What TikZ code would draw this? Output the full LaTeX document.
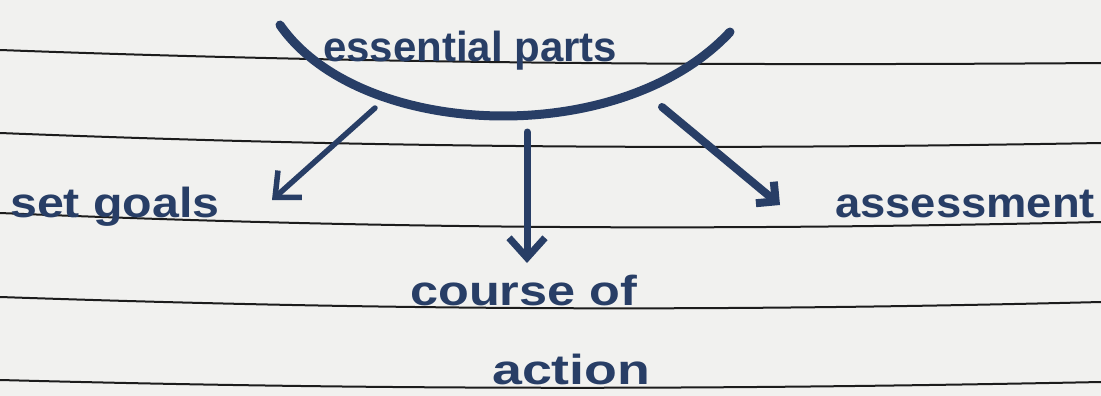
\documentclass[tikz,border=0pt]{standalone}
\usepackage{fontspec}
\setmainfont{Liberation Sans}
\usetikzlibrary{arrows.meta}
\definecolor{ink}{RGB}{40,62,102}
\definecolor{paper}{RGB}{241,241,239}
\definecolor{rulecol}{RGB}{28,28,28}
\begin{document}
\begin{tikzpicture}[x=1pt,y=-1pt,
  handtext/.style={text=ink, font=\fontsize{42}{46}\selectfont\bfseries, inner sep=0pt, anchor=base west},
  ruleline/.style={rulecol, line width=2pt},
  inkarrow/.style={ink, line cap=round, line join=round}]
\fill[paper] (0,0) rectangle (1101,396);
\useasboundingbox (0,0) rectangle (1101,396);
% ruled lines
\draw[ruleline] (0,50) .. controls (350,63) and (700,66) .. (1101,63);
\draw[ruleline] (0,133) .. controls (380,148) and (700,150) .. (1101,143);
\draw[ruleline] (0,213) .. controls (380,229) and (700,231) .. (1101,222);
\draw[ruleline] (0,297) .. controls (380,310) and (700,312) .. (1101,302);
\draw[ruleline] (0,380) .. controls (380,390) and (700,390) .. (1101,382);
% bowl curve
\draw[ink, line width=9pt, line cap=round] (280,25) .. controls (360,140) and (620,150) .. (730,32);
% labels
\node[handtext] (ess) at (323,62) {\scalebox{1.0}[1]{essential parts}};
\node[handtext] (set) at (10,217) {\scalebox{1.15}[1]{set goals}};
\node[handtext] (ass) at (835,217) {\scalebox{1.08}[1]{assessment}};
\node[handtext] (course) at (410,305) {\scalebox{1.2}[1]{course of}};
\node[handtext] (act) at (492,384) {\scalebox{1.28}[1]{action}};
% arrows
\coordinate (s1) at (375,108);
\coordinate (t1) at (272,200);
\coordinate (s2) at (527,132);
\coordinate (t2) at (527,263);
\coordinate (s3) at (662,107);
\coordinate (t3) at (780,205);
\draw[inkarrow, line width=5.5pt, -{Straight Barb[length=20pt,width=36pt]}] (s1) -- (t1);
\draw[inkarrow, line width=7pt, -{Straight Barb[length=20pt,width=36pt]}] (s2) -- (t2);
\draw[inkarrow, line width=8pt, -{Straight Barb[length=14pt,width=28pt]}] (s3) -- (t3);
\end{tikzpicture}
\end{document}
